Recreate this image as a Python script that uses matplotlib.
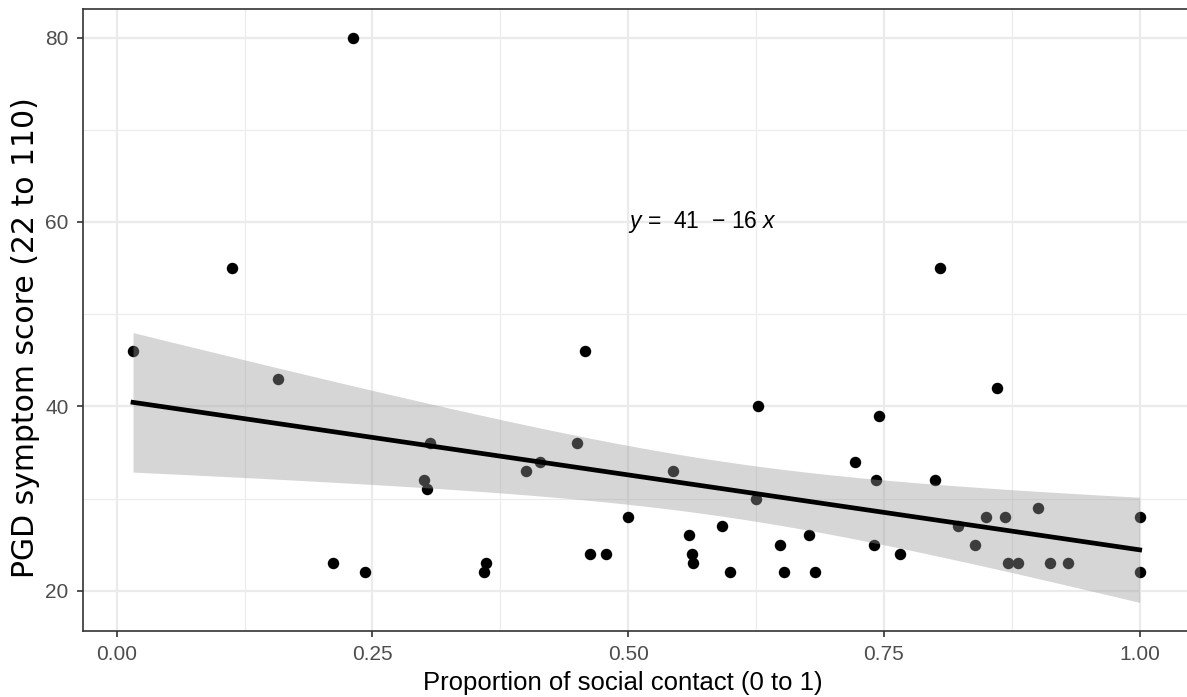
import numpy as np
import matplotlib
matplotlib.use('Agg')
import matplotlib.pyplot as plt
from matplotlib.ticker import MultipleLocator, FormatStrFormatter

plt.rcParams['font.family'] = ['Liberation Sans', 'DejaVu Sans']
plt.rcParams['mathtext.fontset'] = 'custom'
plt.rcParams['mathtext.rm'] = 'Liberation Sans'
plt.rcParams['mathtext.it'] = 'Liberation Sans:italic'

# Data
social_contact = [0.016, 0.113, 0.158, 0.211, 0.231, 0.243, 0.300, 0.303, 0.306,
                  0.359, 0.361, 0.400, 0.414, 0.450, 0.458, 0.463, 0.478, 0.500,
                  0.544, 0.559, 0.562, 0.563, 0.592, 0.600, 0.625, 0.627, 0.648,
                  0.652, 0.677, 0.683, 0.722, 0.740, 0.742, 0.745, 0.766, 0.800,
                  0.805, 0.822, 0.839, 0.850, 0.861, 0.868, 0.871, 0.881, 0.901,
                  0.912, 0.930, 1.000, 1.000]
pgd_score = [46, 55, 43, 23, 80, 22, 32, 31, 36,
             22, 23, 33, 34, 36, 46, 24, 24, 28,
             33, 26, 24, 23, 27, 22, 30, 40, 25,
             22, 26, 22, 34, 25, 32, 39, 24, 32,
             55, 27, 25, 28, 42, 28, 23, 23, 29,
             23, 23, 28, 22]

x_ticks = [0.00, 0.25, 0.50, 0.75, 1.00]
y_ticks = [20, 40, 60, 80]
T_CRIT = 2.012  # t(0.975, df=47)

x = np.array(social_contact)
y = np.array(pgd_score)
n = len(x)

# linear fit with 95% confidence band
slope, intercept = np.polyfit(x, y, 1)
resid = y - (intercept + slope * x)
s = np.sqrt(np.sum(resid ** 2) / (n - 2))
xs = np.linspace(x.min(), x.max(), 80)
ys = intercept + slope * xs
se = s * np.sqrt(1 / n + (xs - x.mean()) ** 2 / np.sum((x - x.mean()) ** 2))
lo = ys - T_CRIT * se
hi = ys + T_CRIT * se

fig = plt.figure(figsize=(11.87, 6.97), dpi=100)
ax = fig.add_axes([82.7 / 1187, (697 - 630.7) / 697, (1190 - 82.7) / 1187, (630.7 - 9.3) / 697])

ax.scatter(x, y, s=68, color='black', linewidths=0, zorder=3)
ax.fill_between(xs, lo, hi, color='#999999', alpha=0.4, linewidth=0, zorder=4)
ax.plot(xs, ys, color='black', lw=3.4, zorder=5)

eq = '$y$ =  41  \u2212 16 $x$'
ax.text(0.5, 60, eq, fontsize=16.5, ha='left', va='center', zorder=6)

# ggplot-like expansion of 5%
xr = x.max() - x.min()
ax.set_xlim(x.min() - 0.05 * xr, x.max() + 0.05 * xr)
ymin = min(y.min(), lo.min())
ymax = max(y.max(), hi.max())
yr = ymax - ymin
ax.set_ylim(ymin - 0.05 * yr, ymax + 0.05 * yr)

ax.set_xticks(x_ticks)
ax.set_yticks(y_ticks)
ax.xaxis.set_major_formatter(FormatStrFormatter('%.2f'))
ax.xaxis.set_minor_locator(MultipleLocator(0.125))
ax.yaxis.set_minor_locator(MultipleLocator(10))

ax.grid(True, which='major', color='#ebebeb', lw=1.6, zorder=0)
ax.grid(True, which='minor', color='#ebebeb', lw=0.8, zorder=0)
ax.set_axisbelow(True)

for sp in ax.spines.values():
    sp.set_color('#333333')
    sp.set_linewidth(1.2)

ax.tick_params(which='major', length=4.3, width=1.2, color='#333333',
               labelsize=15, labelcolor='#4d4d4d', pad=6)
ax.tick_params(which='minor', length=0)

ax.set_xlabel('Proportion of social contact (0 to 1)', fontsize=18.5, color='black')
ax.xaxis.set_label_coords(0.488, -0.0645)
ax.set_ylabel('PGD symptom score (22 to 110)', fontsize=21.5, color='black',
              family=['DejaVu Sans'])
ax.yaxis.set_label_coords(-0.0386, 0.471)

fig.savefig('out.png', dpi=100)
